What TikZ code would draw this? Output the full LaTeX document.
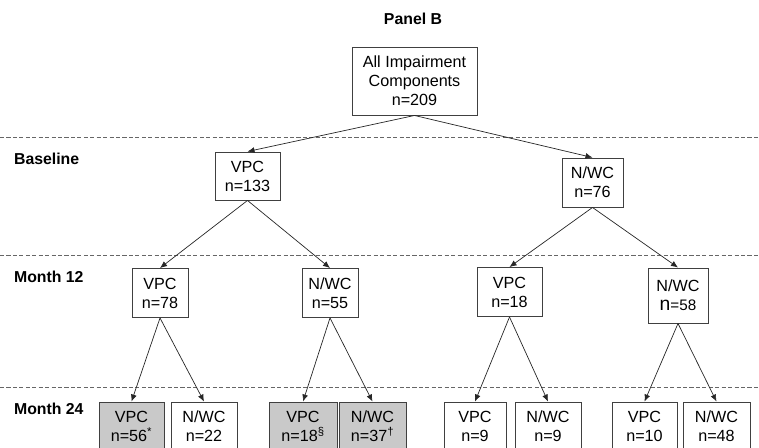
\documentclass[tikz,border=0pt]{standalone}
\usepackage{fontspec}
\setmainfont{Liberation Sans}
\usetikzlibrary{arrows.meta}

\tikzset{
  box/.style={draw=black!75, line width=0.8pt, align=center, inner sep=0pt,
    minimum height=1.47cm, font=\fontsize{13.8}{16.2}\selectfont},
  shaded/.style={box, fill=black!21},
  lab/.style={anchor=west, font=\bfseries\fontsize{13.5}{16}\selectfont},
  link/.style={-{Latex[length=6pt,width=5pt]}, line width=0.6pt, black!85},
  sep/.style={black!60, line width=0.7pt, dash pattern=on 3.5pt off 2pt}
}

\begin{document}
\begin{tikzpicture}[x=0.03cm, y=-0.03cm]
  \useasboundingbox (0,0) rectangle (759,447);

  \node[font=\bfseries\fontsize{13.5}{16}\selectfont] (title) at (413,19) {Panel B};

  % time separators
  \foreach \y in {137,255,387} {
      \draw[sep] (0,\y) -- (759,\y);
    }
  \node[lab] (lbase) at (10,159) {Baseline};
  \node[lab] (lm12) at (10,277) {Month 12};
  \node[lab] (lm24) at (10,409) {Month 24};

  \node[box, minimum width=3.75cm, minimum height=2.04cm] (root) at (414.5,81) {All Impairment\\Components\\n=209};

  \node[box, minimum width=1.95cm, minimum height=1.44cm] (base1) at (247.5,176) {VPC\\n=133};
  \node[box, minimum width=1.83cm] (base2) at (592.5,182.5) {N/WC\\n=76};

  \node[box, minimum width=1.68cm] (m12a) at (160,293) {VPC\\n=78};
  \node[box, minimum width=1.68cm] (m12b) at (330,293) {N/WC\\n=55};
  \node[box, minimum width=1.95cm] (m12c) at (509.5,292) {VPC\\n=18};
  \node[box, minimum width=1.8cm, minimum height=1.65cm] (m12d) at (678,295.5)
    {N/WC\\{\fontsize{16.5}{16.5}\selectfont n}{\fontsize{13}{15}\selectfont=58}};

  \node[shaded, minimum width=1.95cm] (m24a) at (131.5,426.5) {VPC\\n=56\textsuperscript{*}};
  \node[box, minimum width=1.98cm] (m24b) at (204,426.5) {N/WC\\n=22};
  \node[shaded, minimum width=2.04cm] (m24c) at (303,426.5) {VPC\\n=18\textsuperscript{§}};
  \node[shaded, minimum width=2.01cm] (m24d) at (372.5,426.5) {N/WC\\n=37\textsuperscript{†}};
  \node[box, minimum width=1.86cm] (m24e) at (475,426.5) {VPC\\n=9};
  \node[box, minimum width=1.98cm] (m24f) at (548,426.5) {N/WC\\n=9};
  \node[box, minimum width=1.95cm] (m24g) at (644.5,426.5) {VPC\\n=10};
  \node[box, minimum width=2.01cm] (m24h) at (716.5,426.5) {N/WC\\n=48};

  \foreach \a/\b in {root/base1, root/base2, base1/m12a, base1/m12b, base2/m12c, base2/m12d,
      m12a/m24a, m12a/m24b, m12b/m24c, m12b/m24d, m12c/m24e, m12c/m24f, m12d/m24g, m12d/m24h} {
      \draw[link] (\a.south) -- (\b.north);
    }
\end{tikzpicture}
\end{document}
